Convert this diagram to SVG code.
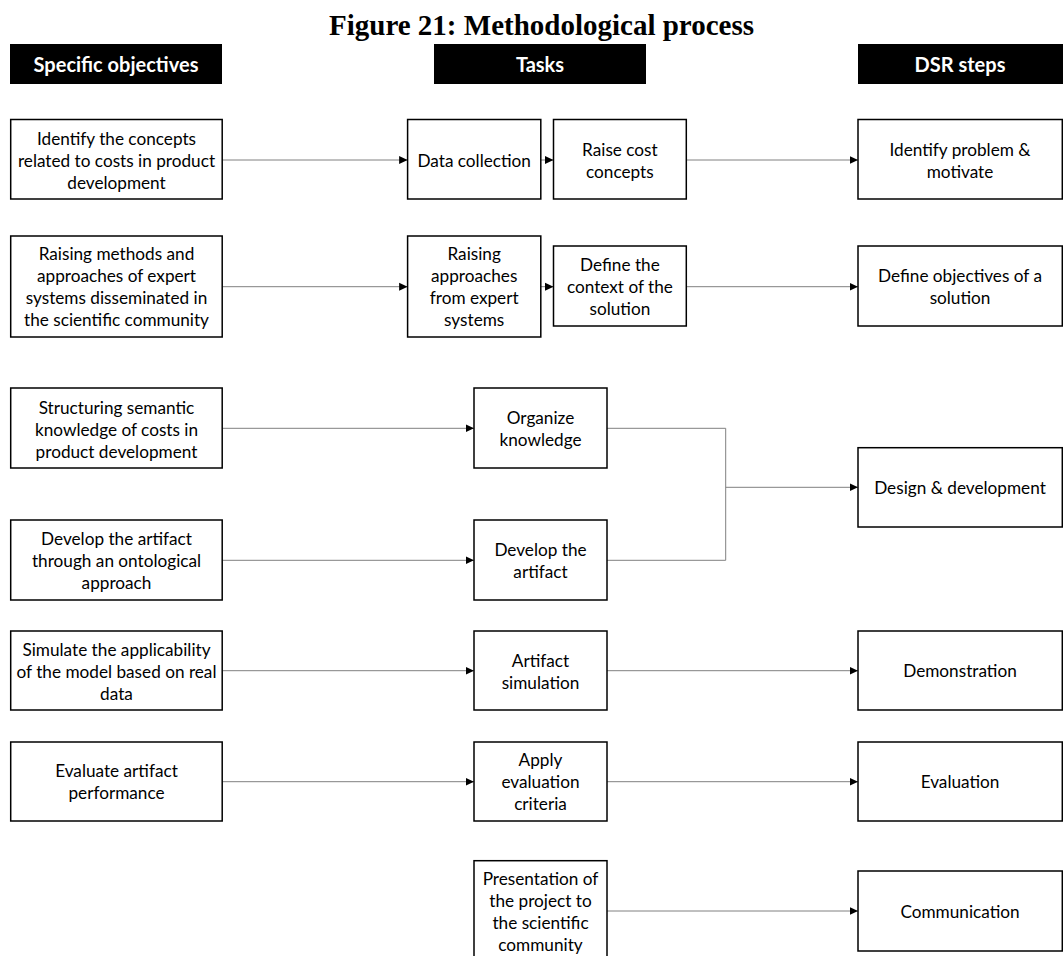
<svg xmlns="http://www.w3.org/2000/svg" width="1063" height="956" viewBox="0 0 1063 956">
<style>
.bg{fill:#fff}
.title{font-family:"Liberation Serif","Times New Roman",serif;font-weight:bold;font-size:29px;fill:#000;text-anchor:middle}
.hdr rect{fill:#000}
.hdr text{font-family:Lato,"Open Sans",sans-serif;font-weight:bold;font-size:20px;fill:#fff;text-anchor:middle;dominant-baseline:central}
.node rect{fill:#fff;stroke:#000;stroke-width:1.5}
.node text{font-family:Lato,"Open Sans",sans-serif;font-size:17.2px;fill:#000;text-anchor:middle;dominant-baseline:central}
.conn path{fill:none;stroke:#808080;stroke-width:1}
.conn .arr{marker-end:url(#ah)}
</style>
<defs>
<marker id="ah" markerUnits="userSpaceOnUse" markerWidth="9" markerHeight="9" refX="8.5" refY="4.5" orient="auto">
<path d="M0,0.5 L8.5,4.5 L0,8.5 z" fill="#000"/>
</marker>
</defs>
<rect class="bg" x="0" y="0" width="1063" height="956"/>
<text class="title" x="541.5" y="35">Figure 21: Methodological process</text>

<g id="hdr-objectives" class="hdr"><rect x="10" y="44" width="212" height="40"/><text x="116" y="64">Specific objectives</text></g>
<g id="hdr-tasks" class="hdr"><rect x="434" y="44" width="212" height="40"/><text x="540" y="64">Tasks</text></g>
<g id="hdr-dsr" class="hdr"><rect x="858" y="44" width="205" height="40"/><text x="960" y="64">DSR steps</text></g>

<g id="connectors" class="conn">
<path class="arr" d="M222,160 H407.6"/>
<path class="arr" d="M540.8,160 H553.5"/>
<path class="arr" d="M686.3,160 H858"/>
<path class="arr" d="M222,286.7 H407.6"/>
<path class="arr" d="M540.8,286.7 H553.5"/>
<path class="arr" d="M686.3,286.7 H858"/>
<path class="arr" d="M222,428.3 H474"/>
<path class="arr" d="M222,560.3 H474"/>
<path d="M607,428.3 H725.7 V560.3 H607"/>
<path class="arr" d="M725.7,487.3 H858"/>
<path class="arr" d="M222,670.7 H474"/>
<path class="arr" d="M607,670.7 H858"/>
<path class="arr" d="M222,781.7 H474"/>
<path class="arr" d="M607,781.7 H858"/>
<path class="arr" d="M607,911 H858"/>
</g>

<g id="obj1" class="node"><rect x="10.7" y="119.5" width="211.5" height="79.5"/>
<text x="116.5" y="138">Identify the concepts</text><text x="116.5" y="160">related to costs in product</text><text x="116.5" y="182">development</text></g>
<g id="obj2" class="node"><rect x="10.7" y="236" width="211.5" height="101"/>
<text x="116.5" y="253.5">Raising methods and</text><text x="116.5" y="275.5">approaches of expert</text><text x="116.5" y="297.5">systems disseminated in</text><text x="116.5" y="319.5">the scientific community</text></g>
<g id="obj3" class="node"><rect x="10.7" y="388" width="211.5" height="80"/>
<text x="116.5" y="407">Structuring semantic</text><text x="116.5" y="429">knowledge of costs in</text><text x="116.5" y="451">product development</text></g>
<g id="obj4" class="node"><rect x="10.7" y="520" width="211.5" height="80"/>
<text x="116.5" y="538.5">Develop the artifact</text><text x="116.5" y="560.5">through an ontological</text><text x="116.5" y="582.5">approach</text></g>
<g id="obj5" class="node"><rect x="10.7" y="631" width="211.5" height="79"/>
<text x="116.5" y="649">Simulate the applicability</text><text x="116.5" y="671">of the model based on real</text><text x="116.5" y="693">data</text></g>
<g id="obj6" class="node"><rect x="10.7" y="742" width="211.5" height="79"/>
<text x="116.5" y="770.5">Evaluate artifact</text><text x="116.5" y="792.5">performance</text></g>

<g id="task-data" class="node"><rect x="407.6" y="119.5" width="133.2" height="79.5"/>
<text x="474.2" y="160">Data collection</text></g>
<g id="task-raisecost" class="node"><rect x="553.5" y="119.5" width="132.8" height="79.5"/>
<text x="619.9" y="149">Raise cost</text><text x="619.9" y="171">concepts</text></g>
<g id="task-raiseappr" class="node"><rect x="407.6" y="236" width="133.2" height="101"/>
<text x="474.2" y="253.5">Raising</text><text x="474.2" y="275.5">approaches</text><text x="474.2" y="297.5">from expert</text><text x="474.2" y="319.5">systems</text></g>
<g id="task-context" class="node"><rect x="553.5" y="246" width="132.8" height="80"/>
<text x="619.9" y="264.5">Define the</text><text x="619.9" y="286.5">context of the</text><text x="619.9" y="308.5">solution</text></g>
<g id="task-organize" class="node"><rect x="474" y="388" width="133" height="80"/>
<text x="540.5" y="417.5">Organize</text><text x="540.5" y="439.5">knowledge</text></g>
<g id="task-develop" class="node"><rect x="474" y="520" width="133" height="80"/>
<text x="540.5" y="549.5">Develop the</text><text x="540.5" y="571.5">artifact</text></g>
<g id="task-simulation" class="node"><rect x="474" y="631" width="133" height="79"/>
<text x="540.5" y="660">Artifact</text><text x="540.5" y="682">simulation</text></g>
<g id="task-criteria" class="node"><rect x="474" y="742" width="133" height="79"/>
<text x="540.5" y="759.5">Apply</text><text x="540.5" y="781.5">evaluation</text><text x="540.5" y="803.5">criteria</text></g>
<g id="task-presentation" class="node"><rect x="474" y="860.7" width="133" height="100"/>
<text x="540.5" y="878.5">Presentation of</text><text x="540.5" y="900.5">the project to</text><text x="540.5" y="922.5">the scientific</text><text x="540.5" y="944.5">community</text></g>

<g id="dsr-identify" class="node"><rect x="858" y="119.5" width="204.3" height="79.5"/>
<text x="960" y="149">Identify problem &amp;</text><text x="960" y="171">motivate</text></g>
<g id="dsr-objectives" class="node"><rect x="858" y="246" width="204.3" height="80"/>
<text x="960" y="275.5">Define objectives of a</text><text x="960" y="297.5">solution</text></g>
<g id="dsr-design" class="node"><rect x="858" y="447.7" width="204.3" height="79.3"/>
<text x="960" y="487.3">Design &amp; development</text></g>
<g id="dsr-demo" class="node"><rect x="858" y="631" width="204.3" height="79"/>
<text x="960" y="670.7">Demonstration</text></g>
<g id="dsr-eval" class="node"><rect x="858" y="742" width="204.3" height="79"/>
<text x="960" y="781.7">Evaluation</text></g>
<g id="dsr-comm" class="node"><rect x="858" y="871" width="204.3" height="80"/>
<text x="960" y="911">Communication</text></g>
</svg>
